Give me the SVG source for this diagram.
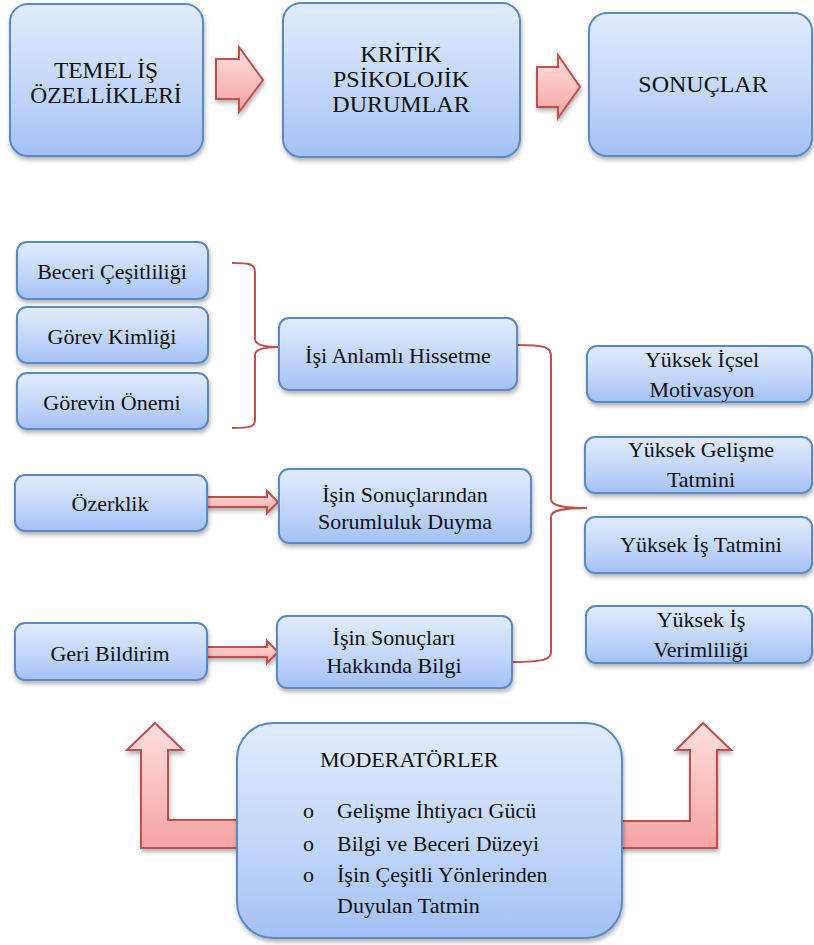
<svg xmlns="http://www.w3.org/2000/svg" width="814" height="945" viewBox="0 0 814 945">
<defs>
<linearGradient id="gBox" x1="0" y1="0" x2="0" y2="1">
<stop offset="0" stop-color="#e1ebfc"/>
<stop offset="0.5" stop-color="#c6d9fa"/>
<stop offset="1" stop-color="#a3c1f5"/>
</linearGradient>
<linearGradient id="gArr" x1="0" y1="0" x2="0" y2="1">
<stop offset="0" stop-color="#fde0e0"/>
<stop offset="1" stop-color="#f5a3a1"/>
</linearGradient>
<filter id="sh" x="-10%" y="-10%" width="125%" height="130%">
<feDropShadow dx="1" dy="3" stdDeviation="2" flood-color="#000" flood-opacity="0.3"/>
</filter>
</defs>
<style>
.box{fill:url(#gBox);stroke:#5a89c5;stroke-width:2;filter:url(#sh)}
.arr{fill:url(#gArr);stroke:#c0504d;stroke-width:2;stroke-linejoin:miter;filter:url(#sh)}
.br{fill:none;stroke:#c0504d;stroke-width:2}
text{font-family:'Liberation Serif','Times New Roman',serif;fill:#111;text-anchor:middle}
.big{font-size:24px}
.sm{font-size:22px}
.st{text-anchor:start}
</style>
<rect width="814" height="945" fill="#fff"/>
<g id="connectors">
<polygon class="arr" points="216,59 239,59 239,47 263,80 239,112 239,99 216,99"/>
<polygon class="arr" points="537,67 558,67 558,55 580,87 558,118 558,107 537,107"/>
<polygon class="arr" points="207,497 267,497 267,491 278,502 267,513 267,507 207,507"/>
<polygon class="arr" points="207,647 267,647 267,641 278,652 267,663 267,657 207,657"/>
<path class="br" d="M232,263 C250,263 255,264 255,272 L255,339 C255,344 262,347 279,347 C262,347 255,350 255,355 L255,420 C255,427 250,428 232,428"/>
<path class="br" d="M517,345 C545,345 551,347 551,356 L551,499 C551,505 560,508 587,508 C560,508 551,511 551,517 L551,652 C551,659 545,662 512,662"/>
<polygon class="arr" points="240,820 168,820 168,750 183,750 155,723 127,750 141,750 141,848 240,848"/>
<polygon class="arr" points="619,821 690,821 690,750 676,750 703,723 731,750 717,750 717,848 619,848"/>
</g>
<g id="n-temel">
<rect class="box" x="10" y="4" width="193" height="152" rx="18"/>
<text x="106" y="78" style="font-size:23.5px">TEMEL İŞ</text>
<text x="106" y="103" style="font-size:23.5px">ÖZELLİKLERİ</text>
</g>
<g id="n-kritik">
<rect class="box" x="283" y="3" width="237" height="154" rx="18"/>
<text class="big" x="401" y="62">KRİTİK</text>
<text class="big" x="401" y="87">PSİKOLOJİK</text>
<text class="big" x="401" y="112">DURUMLAR</text>
</g>
<g id="n-sonuclar">
<rect class="box" x="589" y="13" width="223" height="143" rx="18"/>
<text class="big" x="703" y="92">SONUÇLAR</text>
</g>
<g id="n-beceri">
<rect class="box" x="17" y="242" width="191" height="57" rx="10"/>
<text class="sm" x="112" y="279">Beceri Çeşitliliği</text>
</g>
<g id="n-kimlik">
<rect class="box" x="17" y="307" width="191" height="56" rx="10"/>
<text class="sm" x="112" y="344">Görev Kimliği</text>
</g>
<g id="n-onem">
<rect class="box" x="17" y="373" width="191" height="56" rx="10"/>
<text class="sm" x="112" y="410">Görevin Önemi</text>
</g>
<g id="n-anlamli">
<rect class="box" x="279" y="318" width="238" height="72" rx="10"/>
<text class="sm" x="398" y="363">İşi Anlamlı Hissetme</text>
</g>
<g id="n-ozerklik">
<rect class="box" x="15" y="475" width="192" height="56" rx="10"/>
<text class="sm" x="110" y="511">Özerklik</text>
</g>
<g id="n-sorumluluk">
<rect class="box" x="279" y="469" width="252" height="74" rx="10"/>
<text class="sm" x="405" y="502">İşin Sonuçlarından</text>
<text class="sm" x="405" y="529">Sorumluluk Duyma</text>
</g>
<g id="n-geri">
<rect class="box" x="15" y="623" width="192" height="57" rx="10"/>
<text class="sm" x="110" y="661">Geri Bildirim</text>
</g>
<g id="n-bilgi">
<rect class="box" x="277" y="616" width="235" height="72" rx="10"/>
<text class="sm" x="394" y="645">İşin Sonuçları</text>
<text class="sm" x="394" y="673">Hakkında Bilgi</text>
</g>
<g id="n-motivasyon">
<rect class="box" x="587" y="346" width="225" height="56" rx="10"/>
<text class="sm" x="702" y="367">Yüksek İçsel</text>
<text class="sm" x="702" y="397">Motivasyon</text>
</g>
<g id="n-gelisme">
<rect class="box" x="585" y="437" width="227" height="56" rx="10"/>
<text class="sm" x="701" y="457">Yüksek Gelişme</text>
<text class="sm" x="701" y="487">Tatmini</text>
</g>
<g id="n-istatmini">
<rect class="box" x="585" y="517" width="227" height="56" rx="10"/>
<text class="sm" x="701" y="552">Yüksek İş Tatmini</text>
</g>
<g id="n-verim">
<rect class="box" x="586" y="606" width="226" height="57" rx="10"/>
<text class="sm" x="701" y="627">Yüksek İş</text>
<text class="sm" x="701" y="657">Verimliliği</text>
</g>
<g id="n-moderator">
<rect class="box" x="237" y="723" width="385" height="215" rx="36"/>
<text class="sm st" x="320" y="767">MODERATÖRLER</text>
<text class="sm st" x="303" y="818">o</text>
<text class="sm st" x="337" y="818">Gelişme İhtiyacı Gücü</text>
<text class="sm st" x="303" y="851">o</text>
<text class="sm st" x="337" y="851">Bilgi  ve Beceri Düzeyi</text>
<text class="sm st" x="303" y="882">o</text>
<text class="sm st" x="337" y="882">İşin Çeşitli  Yönlerinden</text>
<text class="sm st" x="337" y="913">Duyulan Tatmin</text>
</g>
</svg>
